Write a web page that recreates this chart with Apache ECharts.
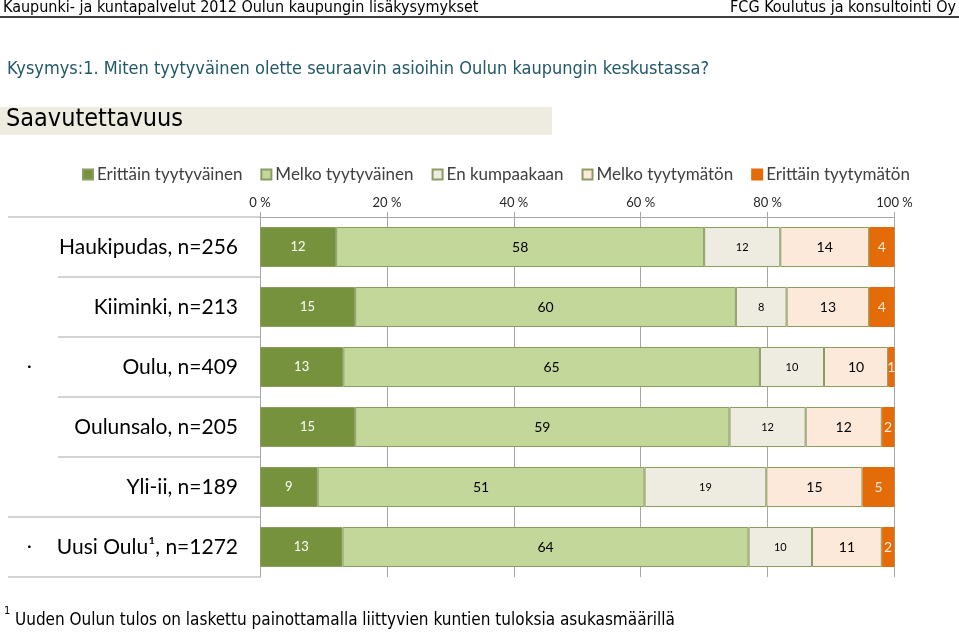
<!DOCTYPE html>
<html><head><meta charset="utf-8">
<script src="https://cdn.jsdelivr.net/npm/echarts@6/dist/echarts.min.js"></script>
<style>html,body{margin:0;padding:0;background:#fff}#c{width:959px;height:632px}</style>
</head><body><div id="c"></div>
<script>
const categories = ['Haukipudas, n=256','Kiiminki, n=213','Oulu, n=409','Oulunsalo, n=205','Yli-ii, n=189','Uusi Oulu\u00B9, n=1272'];
const seriesNames = ['Erittäin tyytyväinen','Melko tyytyväinen','En kumpaakaan','Melko tyytymätön','Erittäin tyytymätön'];
const erittainTyytyvainen = [12,15,13,15,9,13];
const melkoTyytyvainen = [58,60,65,59,51,64];
const enKumpaakaan = [12,8,10,12,19,10];
const melkoTyytymaton = [14,13,10,12,15,11];
const erittainTyytymaton = [4,4,1,2,5,2];
const tickLabels = ['0 %','20 %','40 %','60 %','80 %','100 %'];

const raw = [erittainTyytyvainen, melkoTyytyvainen, enKumpaakaan, melkoTyytymaton, erittainTyytymaton];
const totals = categories.map((_, i) => raw.reduce((s, a) => s + a[i], 0));
const colors = ['#76923C','#C4D79B','#EEECE1','#FDE9D9','#E36C09'];
const labelColors = ['#FFFFFF','#000000','#000000','#000000','#FDE9D9'];
const labelSizes = [13,14,11,14,14];

const chart = echarts.init(document.getElementById('c'));
const GT = 217, GB = 577, GL = 260, GR = 894.5;
const lines = [];
const bandH = (GB - GT) / categories.length;
for (let i = 0; i <= categories.length; i++) {
  const y = GT + bandH * i;
  const x0 = (i === 0 || i >= categories.length - 1) ? 8 : 58;
  lines.push({type:'line', shape:{x1:x0, y1:y, x2:GL, y2:y}, style:{stroke:'#A6A6A6', lineWidth:1}, z:1});
}
const NF = '"Liberation Sans Narrow", "DejaVu Sans Condensed", sans-serif';

const option = {
  animation: false,
  backgroundColor: '#fff',
  grid: {left: GL, right: 959 - GR, top: GT, bottom: 632 - GB, containLabel: false},
  legend: {
    top: 161, left: 77, itemWidth: 10, itemHeight: 10, itemGap: 18,
    icon: 'rect',
    textStyle: {fontFamily: 'Lato', fontSize: 17, color: '#404040', padding: [0,0,0,-1]},
    data: seriesNames
  },
  xAxis: {
    type: 'value', position: 'top', min: 0, max: 100, interval: 20,
    axisLine: {show: true, lineStyle: {color: '#A6A6A6'}},
    axisTick: {show: true, length: 5, lineStyle: {color: '#A6A6A6'}},
    splitLine: {show: true, lineStyle: {color: '#A6A6A6', width: 1}},
    axisLabel: {margin: 8, fontFamily: 'Lato', fontSize: 13, color: '#262626',
      formatter: v => tickLabels[Math.round(v / 20)]}
  },
  yAxis: {
    type: 'category', inverse: true, data: categories,
    axisLine: {show: true, lineStyle: {color: '#A6A6A6'}},
    axisTick: {show: false},
    axisLabel: {margin: 22, fontFamily: 'Lato', fontSize: 21, color: '#000'}
  },
  series: seriesNames.map((name, si) => ({
    name, type: 'bar', stack: 'total', barWidth: 40,
    itemStyle: {color: colors[si], borderColor: si === 4 ? '#E36C09' : '#8A9C62', borderWidth: 1},
    label: {show: true, position: 'inside', color: labelColors[si], fontFamily: 'Lato', fontSize: labelSizes[si],
      formatter: p => String(raw[si][p.dataIndex])},
    data: raw[si].map((v, i) => v / totals[i] * 100)
  })),
  graphic: [
    {type:'text', left: 3, top: 0, style:{text:'Kaupunki- ja kuntapalvelut 2012 Oulun kaupungin lisäkysymykset', font:'16px ' + NF, fill:'#000'}},
    {type:'text', right: 3, top: 0, style:{text:'FCG Koulutus ja konsultointi Oy', font:'16px ' + NF, fill:'#000'}},
    {type:'rect', shape:{x:0, y:16, width:959, height:2}, style:{fill:'#404040'}},
    {type:'text', left: 7, top: 60, style:{text:'Kysymys:1. Miten tyytyväinen olette seuraavin asioihin Oulun kaupungin keskustassa?', font:'18px ' + NF, fill:'#215968'}},
    {type:'rect', shape:{x:0, y:107, width:552, height:28}, style:{fill:'#EEECE1'}},
    {type:'text', left: 6, top: 107, style:{text:'Saavutettavuus', font:'25px ' + NF, fill:'#000'}},
    {type:'text', left: 27, top: 357, style:{text:'·', font:'18px Lato', fill:'#000'}},
    {type:'text', left: 27, top: 537, style:{text:'·', font:'18px Lato', fill:'#000'}},
    {type:'text', left: 4, top: 606, style:{text:'1', font:'11px ' + NF, fill:'#000'}},
    {type:'text', left: 15, top: 612, style:{text:'Uuden Oulun tulos on laskettu painottamalla liittyvien kuntien tuloksia asukasmäärillä', font:'17px ' + NF, fill:'#000'}}
  ].concat(lines)
};
chart.setOption(option);
</script></body></html>
